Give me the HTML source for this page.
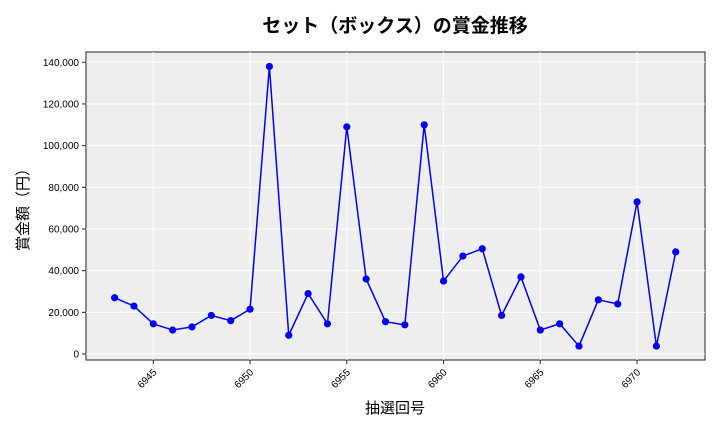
<!DOCTYPE html><html><head><meta charset="utf-8"><style>body{margin:0;background:#fff}svg{display:block;font-family:"Liberation Sans","Noto Sans CJK JP",sans-serif}</style></head><body>
<svg id="s" width="720" height="432" xmlns="http://www.w3.org/2000/svg">
<rect x="86" y="52" width="619" height="308" fill="#eeeeee" stroke="#222" stroke-width="1"/>
<g id="g"></g>
<text x="395" y="32" text-anchor="middle" font-size="19" font-weight="bold" font-family="Noto Sans CJK JP,sans-serif">セット（ボックス）の賞金推移</text>
<text x="395" y="413" text-anchor="middle" font-size="15" font-family="Noto Sans CJK JP,sans-serif">抽選回号</text>
<text transform="translate(28,206) rotate(-90)" text-anchor="middle" font-size="15" font-family="Noto Sans CJK JP,sans-serif">賞金額（円）</text>
</svg>
<script>
var v=[27000,23000,14500,11500,13000,18500,16000,21500,138000,9000,29000,14500,109000,36000,15500,14000,110000,35000,47000,50500,18500,37000,11500,14500,3800,26000,24000,73000,3800,49000];
var X=n=>153.3+(n-6945)*19.35, Y=a=>354-a*0.0020836, h='';
for(var k=0;k<=140000;k+=20000){var y=Y(k);h+=`<line x1="86" x2="705" y1="${y}" y2="${y}" stroke="#fff"/><line x1="82" x2="86" y1="${y}" y2="${y}" stroke="#222"/><text x="79" y="${y+3.5}" text-anchor="end" font-size="10">${k.toLocaleString('en-US')}</text>`;}
for(var n=6945;n<=6970;n+=5){var x=X(n);h+=`<line y1="52" y2="360" x1="${x}" x2="${x}" stroke="#fff"/><line y1="360" y2="364" x1="${x}" x2="${x}" stroke="#222"/><text transform="translate(${x+4},${373}) rotate(-45)" text-anchor="end" font-size="10">${n}</text>`;}
var p=v.map((a,i)=>X(6943+i)+','+Y(a)).join(' ');
h+=`<polyline points="${p}" fill="none" stroke="#0000ee" stroke-width="1.5"/>`;
v.forEach((a,i)=>h+=`<circle cx="${X(6943+i)}" cy="${Y(a)}" r="3.6" fill="#0000ee"/>`);
document.getElementById('g').innerHTML=h;
</script></body></html>
